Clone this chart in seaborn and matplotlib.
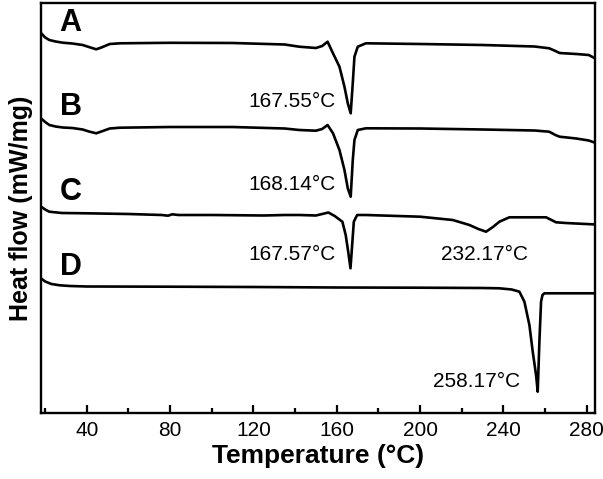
import matplotlib
matplotlib.use("Agg")
import matplotlib.pyplot as plt
import seaborn as sns
import pandas as pd
from matplotlib.ticker import MultipleLocator

# ---- data (heat flow in arbitrary, offset units; larger = higher on chart) ----
T_A = [18, 20, 22, 25, 28.5, 33, 38, 41, 44.5, 47, 51, 56, 80, 110, 135, 142, 150, 153,
       155.6, 158.2, 161.3, 163.7, 165.3, 166.7, 167.7, 168.5, 170.1, 174, 200, 230, 255,
       262, 265, 267, 275, 281, 284]
hf_A = [380, 375.5, 373, 371.5, 370.3, 369.5, 368, 366, 363.7, 365.5, 369, 369.7, 370.2,
        370, 368.5, 366.3, 365, 367, 371.3, 359.7, 346.3, 326.3, 309.7, 299.7, 330, 356.3,
        366.3, 369.7, 369, 368, 366.5, 364.7, 362, 360, 359, 358, 354.7]

T_B = T_A
hf_B = [294.7, 291, 288, 286.5, 285.5, 285, 283.5, 281.5, 279.7, 281.5, 284.5, 285.3, 286,
        286, 284.5, 283, 282.3, 284, 288, 279.7, 263, 243, 224.7, 216.3, 253, 273, 283,
        284.7, 284.5, 283.5, 282.5, 281.3, 278, 276.3, 274.5, 272.5, 270.3]

T_C = [18, 20, 22, 28, 40, 60, 76, 79, 81, 84, 100, 125, 135, 142, 150, 153, 156, 159,
       162.7, 164.3, 165.5, 166.6, 167.4, 168.2, 169.8, 174, 200, 215.7, 223.7, 228, 231.7,
       235, 238.1, 242.9, 250, 260.5, 265.3, 270, 282.7, 284]
hf_C = [206.3, 203.5, 201.3, 200, 199.7, 199, 198, 197.3, 198.7, 198, 198, 197.5, 198,
        198, 197.5, 199, 200.5, 197, 191.3, 178, 161.3, 144.7, 168, 191.3, 198, 198, 196.3,
        193, 188, 184, 181.3, 186, 191.3, 195.7, 195.7, 195.7, 190.7, 190, 188.7, 188.5]

T_D = [18, 20, 23, 27, 32, 40, 80, 120, 160, 200, 230, 238.1, 244, 247.7, 250.1, 252.5,
       254.1, 255.7, 256.5, 257.3, 258.1, 258.8, 259.7, 265, 284]
hf_D = [134.7, 131.5, 129, 127.7, 127, 126.5, 126.3, 126, 125.5, 125.3, 125, 124.7, 123.5,
        121.3, 111.3, 88, 61.3, 38, 21.3, 71.3, 111.3, 118, 119.7, 119.7, 119.7]

curve_names = ["A", "B", "C", "D"]
peak_labels = ["167.55°C", "168.14°C", "167.57°C", "232.17°C", "258.17°C"]
x_ticks = [40, 80, 120, 160, 200, 240, 280]

frames = []
for name, t, h in zip(curve_names, [T_A, T_B, T_C, T_D], [hf_A, hf_B, hf_C, hf_D]):
    frames.append(pd.DataFrame({"T": t, "hf": h, "sample": name}))
df = pd.concat(frames, ignore_index=True)

sns.set_style("ticks")
plt.rcParams["font.family"] = ["Liberation Sans", "DejaVu Sans"]
plt.rcParams.update({"text.color": "black", "axes.labelcolor": "black",
                     "xtick.color": "black", "ytick.color": "black",
                     "axes.edgecolor": "black"})

fig = plt.figure(figsize=(6.03, 4.79), dpi=100)
ax = fig.add_axes([41 / 603, 1 - 413 / 479, (595 - 41) / 603, 410 / 479])

sns.lineplot(data=df, x="T", y="hf", units="sample", estimator=None, color="black",
             linewidth=1.9, sort=False, ax=ax)

ax.set_xlim(18, 284)
ax.set_ylim(0, 410)
ax.set_xticks(x_ticks)
ax.xaxis.set_minor_locator(MultipleLocator(20))
ax.set_yticks([])
ax.tick_params(axis="x", which="major", direction="in", length=6, width=1.6,
               labelsize=15, pad=6, top=False)
ax.tick_params(axis="x", which="minor", direction="in", length=3.5, width=1.6, top=False)
for sp in ax.spines.values():
    sp.set_linewidth(1.7)
    sp.set_visible(True)
    sp.set_color("black")

ax.set_xlabel("Temperature (°C)", fontsize=19, fontweight="bold", labelpad=3)
ax.set_ylabel("Heat flow (mW/mg)", fontsize=18, fontweight="bold", labelpad=6)

# curve letters
letter_pos = [(32.2, 389.7), (32.5, 306.3), (32.3, 220.5), (32.3, 146.3)]
for name, (x, y) in zip(curve_names, letter_pos):
    ax.text(x, y, name, fontsize=22, fontweight="bold", ha="center", va="center")

# peak annotations
ann_pos = [(159.7, 311.3, "right"), (159.7, 228, "right"), (159.7, 158.8, "right"),
           (210.1, 159, "left"), (206.1, 31.3, "left")]
for lab, (x, y, ha) in zip(peak_labels, ann_pos):
    ax.text(x, y, lab, fontsize=15, ha=ha, va="center")

fig.savefig("out.png", dpi=100)
